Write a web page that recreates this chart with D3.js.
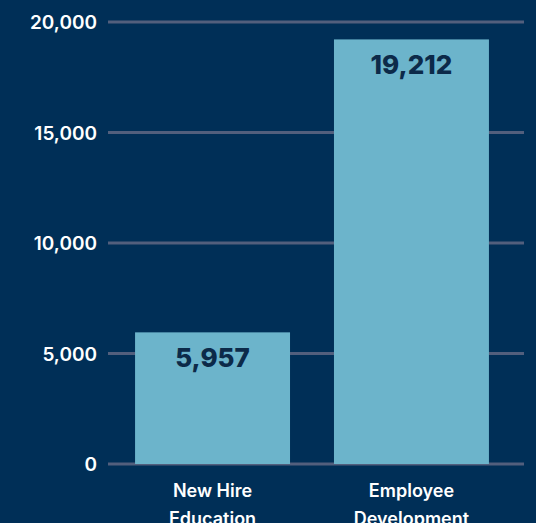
<!DOCTYPE html>
<html>
<head>
<meta charset="utf-8">
<script src="https://cdn.jsdelivr.net/npm/d3@7"></script>
<style>
  body { margin: 0; background: #002f57; }
  svg { display: block; }
</style>
</head>
<body>
<script>
// Data
var categories = [["New Hire", "Education"], ["Employee", "Development"]];
var values = [5957, 19212];
var ticks = [0, 5000, 10000, 15000, 20000];

var w = 536;
var h = 523;

var xScale = d3.scaleBand()
               .domain(d3.range(values.length))
               .range([108, 516])
               .paddingInner(0.221)
               .paddingOuter(0.136);

var yScale = d3.scaleLinear()
               .domain([0, 20000])
               .range([464, 22]);

var svg = d3.select("body")
            .append("svg")
            .attr("width", w)
            .attr("height", h)
            .style("font-family", "Inter, sans-serif");

svg.append("rect")
   .attr("width", w)
   .attr("height", h)
   .attr("fill", "#002f57");

// Gridlines
svg.selectAll("line.grid")
   .data(ticks)
   .enter()
   .append("line")
   .attr("class", "grid")
   .attr("x1", 108)
   .attr("x2", 524)
   .attr("y1", function(d) { return yScale(d); })
   .attr("y2", function(d) { return yScale(d); })
   .attr("stroke", "#525f7d")
   .attr("stroke-width", 3);

// Tick labels
svg.selectAll("text.tick")
   .data(ticks)
   .enter()
   .append("text")
   .attr("class", "tick")
   .text(function(d) { return d3.format(",")(d); })
   .attr("text-anchor", "end")
   .attr("x", 97)
   .attr("y", function(d) { return yScale(d) + 7; })
   .attr("font-size", "19px")
   .attr("font-weight", 600)
   .attr("fill", "white");

// Bars
svg.selectAll("rect.bar")
   .data(values)
   .enter()
   .append("rect")
   .attr("class", "bar")
   .attr("x", function(d, i) { return xScale(i); })
   .attr("y", function(d) { return yScale(d); })
   .attr("width", xScale.bandwidth())
   .attr("height", function(d) { return yScale(0) - yScale(d); })
   .attr("fill", "#6cb4cb");

// Value labels
svg.selectAll("text.value")
   .data(values)
   .enter()
   .append("text")
   .attr("class", "value")
   .text(function(d) { return d3.format(",")(d); })
   .attr("text-anchor", "middle")
   .attr("x", function(d, i) { return xScale(i) + xScale.bandwidth() / 2; })
   .attr("y", function(d) { return yScale(d) + 35; })
   .attr("font-size", "26px")
   .attr("font-weight", 800)
   .attr("fill", "#0c2a49");

// Category labels
var cat = svg.selectAll("text.cat")
   .data(categories)
   .enter()
   .append("text")
   .attr("class", "cat")
   .attr("text-anchor", "middle")
   .attr("font-size", "18px")
   .attr("font-weight", 600)
   .attr("fill", "white");

cat.selectAll("tspan")
   .data(function(d, i) { return d.map(function(s) { return { s: s, i: i }; }); })
   .enter()
   .append("tspan")
   .attr("x", function(d) { return xScale(d.i) + xScale.bandwidth() / 2; })
   .attr("y", function(d, j) { return 497 + j * 28; })
   .text(function(d) { return d.s; });
</script>
</body>
</html>
